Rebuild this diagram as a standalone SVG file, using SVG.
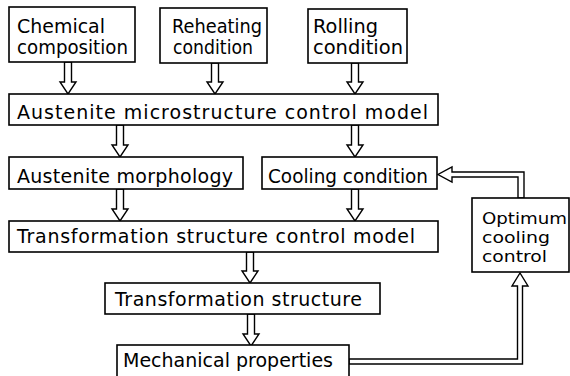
<svg xmlns="http://www.w3.org/2000/svg" width="570" height="376" viewBox="0 0 570 376">
<style>
.box{fill:#fff;stroke:#000;stroke-width:1.6}
.arr{fill:#fff;stroke:#000;stroke-width:1.4;stroke-linejoin:miter}
text{font-family:"DejaVu Sans","Liberation Sans",sans-serif;font-size:19px;fill:#000}
.sm{font-size:16.5px}
</style>
<rect width="570" height="376" fill="#fff"/>
<g id="connectors">
<polygon class="arr" points="64.5,62 71.5,62 71.5,82 76,82 68,94 60,82 64.5,82"/>
<polygon class="arr" points="211.5,63 218.5,63 218.5,82 223,82 215,94 207,82 211.5,82"/>
<polygon class="arr" points="351.5,63 358.5,63 358.5,82 363,82 355,94 347,82 351.5,82"/>
<polygon class="arr" points="116.5,125 123.5,125 123.5,145 128,145 120,157 112,145 116.5,145"/>
<polygon class="arr" points="351.5,125 358.5,125 358.5,145 363,145 355,157 347,145 351.5,145"/>
<polygon class="arr" points="116.5,189 123.5,189 123.5,209 128,209 120,221 112,209 116.5,209"/>
<polygon class="arr" points="351.5,189 358.5,189 358.5,209 363,209 355,221 347,209 351.5,209"/>
<polygon class="arr" points="246.5,252 253.5,252 253.5,271 258,271 250,283 242,271 246.5,271"/>
<polygon class="arr" points="247.5,314 254.5,314 254.5,334 259,334 251,346 243,334 247.5,334"/>
<polygon class="arr" points="349,359 517.5,359 517.5,286 512,286 520,273 528,286 522.5,286 522.5,364 349,364"/>
<polygon class="arr" points="518,198 518,177 452,177 452,182 438,174.5 452,167 452,172 524,172 524,198"/>
</g>
<g id="chemical"><rect class="box" x="9" y="7" width="126" height="55"/><text x="17" y="33" textLength="88" lengthAdjust="spacingAndGlyphs">Chemical</text><text x="17" y="54" textLength="111" lengthAdjust="spacingAndGlyphs">composition</text></g>
<g id="reheating"><rect class="box" x="160" y="8" width="107" height="55"/><text x="172" y="33" textLength="90" lengthAdjust="spacingAndGlyphs">Reheating</text><text x="173" y="54" textLength="80" lengthAdjust="spacingAndGlyphs">condition</text></g>
<g id="rolling"><rect class="box" x="308" y="9" width="99" height="54"/><text x="313" y="33" textLength="65" lengthAdjust="spacingAndGlyphs">Rolling</text><text x="313" y="54" textLength="90" lengthAdjust="spacingAndGlyphs">condition</text></g>
<g id="austenite-model"><rect class="box" x="9" y="94" width="429" height="31"/><text x="17" y="119" textLength="411" lengthAdjust="spacing">Austenite microstructure control model</text></g>
<g id="morphology"><rect class="box" x="9" y="157" width="234" height="32"/><text x="17" y="183" textLength="216" lengthAdjust="spacing">Austenite morphology</text></g>
<g id="cooling"><rect class="box" x="262" y="157" width="175" height="32"/><text x="268" y="183" textLength="160" lengthAdjust="spacingAndGlyphs">Cooling condition</text></g>
<g id="transformation-model"><rect class="box" x="9" y="221" width="429" height="31"/><text x="17" y="243" textLength="398" lengthAdjust="spacing">Transformation structure control model</text></g>
<g id="transformation-structure"><rect class="box" x="105" y="283" width="275" height="31"/><text x="115" y="306" textLength="247" lengthAdjust="spacing">Transformation structure</text></g>
<g id="mechanical"><rect class="box" x="117" y="345" width="232" height="34"/><text x="123" y="367" textLength="210" lengthAdjust="spacing">Mechanical properties</text></g>
<g id="optimum"><rect class="box" x="472" y="198" width="97" height="74"/><text class="sm" x="482" y="224" textLength="85" lengthAdjust="spacingAndGlyphs">Optimum</text><text class="sm" x="482" y="243" textLength="68" lengthAdjust="spacingAndGlyphs">cooling</text><text class="sm" x="482" y="262" textLength="65" lengthAdjust="spacingAndGlyphs">control</text></g>
</svg>
